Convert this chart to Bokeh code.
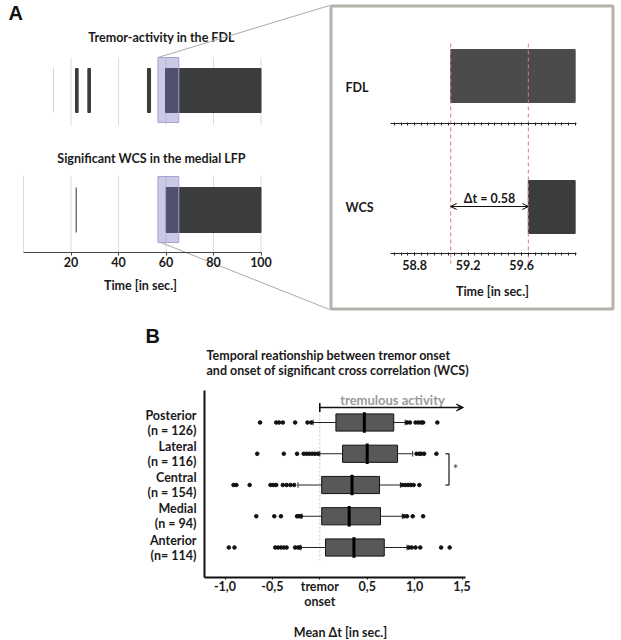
from bokeh.plotting import figure
from bokeh.layouts import column
from bokeh.models import (Range1d, FixedTicker, Arrow, VeeHead, TeeHead, OpenHead, LinearAxis)
from bokeh.core.properties import value
from bokeh.embed import file_html
from bokeh.resources import INLINE

FONT = "Lato"
DARK = "#3b3d3d"
BORDER = "#b3b3ab"
TXT = "#1a1a1a"
FS = "12.5px"

# ---------------- Panel A data (time in s) ----------------
fdl_burst_start = [21.9, 27.1, 52.2]
fdl_burst_end = [23.0, 28.2, 53.5]
fdl_faint_event = [12.6]
fdl_tremor_start = 59.8
wcs_burst = [22.2]
wcs_tremor_start = 60.1
recording_end = 100.0
onset_window = [56.6, 65.4]
time_ticks = [20, 40, 60, 80, 100]
grid_times = [0, 20, 40, 60, 80, 100]

zoom_fdl_onset = 59.07
zoom_delta_t = 0.58
zoom_ticks = [58.8, 59.2, 59.6]
zoom_end = 60.0

# ---------------- Panel B data ----------------
regions = ["Posterior", "Lateral", "Central", "Medial", "Anterior"]
n_labels = ["(n = 126)", "(n = 116)", "(n = 154)", "(n = 94)", "(n= 114)"]
q1 = [0.17, 0.24, 0.02, 0.02, 0.06]
median = [0.47, 0.50, 0.34, 0.31, 0.36]
q3 = [0.78, 0.82, 0.63, 0.64, 0.68]
whisk_lo = [-0.07, 0.00, -0.23, -0.19, -0.20]
whisk_hi = [0.90, 0.98, 0.85, 0.87, 0.92]
outliers = [
    [-0.63, -0.46, -0.43, -0.39, -0.26, -0.13, -0.09, 0.92, 0.95, 1.01, 1.04, 1.07, 1.09, 1.24],
    [-0.66, -0.38, -0.24, -0.17, -0.14, -0.11, -0.08, -0.05, -0.02, 1.02, 1.05, 1.07, 1.10, 1.23],
    [-0.91, -0.88, -0.74, -0.52, -0.49, -0.46, -0.39, -0.35, -0.31, -0.27, 0.87, 0.90, 0.93, 0.96, 0.99, 1.05],
    [-0.67, -0.48, -0.41, -0.24, -0.22, -0.20, 0.89, 0.92, 0.98, 1.09],
    [-0.96, -0.90, -0.47, -0.44, -0.41, -0.38, -0.35, -0.26, -0.23, -0.21, 0.94, 0.97, 1.01, 1.06, 1.28, 1.37],
]
x_ticks = [-1.0, -0.5, 0.0, 0.5, 1.0, 1.5]
x_tick_labels = ["-1,0", "-0,5", "tremor\nonset", "0,5", "1,0", "1,5"]


def style_axis_text(ax):
    ax.major_label_text_font = FONT
    ax.major_label_text_font_style = "bold"
    ax.major_label_text_font_size = FS
    ax.major_label_text_color = TXT


def txt(p, x, y, s, align="center", size=FS, font=FONT, color=TXT, style="bold", **kw):
    p.text(x=[x], y=[y], text=[s], text_align=align, text_baseline="middle",
           text_font=value(font), text_font_style=style, text_font_size=size,
           text_color=color, **kw)


# ======================= Panel A (canvas px 0..621 x 0..316) =======================
A_W, A_H = 621, 316
A_PX, A_T0PX = 2.375, 23.0                 # px per second, x of t = 0
Z_PX, Z_X0, Z_X0PX = 133.8, 58.62, 390.0   # zoom panel: px per second, time at x = 390


def tx(px):
    return (px - A_T0PX) / A_PX


def zx(px):
    return Z_X0 + (px - Z_X0PX) / Z_PX


pA = figure(width=A_W, height=A_H, x_range=Range1d(tx(0), tx(A_W)), y_range=Range1d(A_H, 0),
            x_axis_location=None, y_axis_location=None, title=None, min_border=0,
            output_backend="svg", toolbar_location=None)
pA.extra_x_ranges = {"zoom": Range1d(zx(0), zx(A_W))}
pA.grid.visible = False
pA.outline_line_color = None

# left overview strips
pA.segment(x0=grid_times[1:], y0=57, x1=grid_times[1:], y1=125, line_color="#dcdcdc", line_width=1)
pA.segment(x0=grid_times, y0=175, x1=grid_times, y1=252, line_color="#dcdcdc", line_width=1)
pA.segment(x0=fdl_faint_event, y0=68, x1=fdl_faint_event, y1=112, line_color="#cfcfcf", line_width=1)
pA.quad(left=fdl_burst_start, right=fdl_burst_end, top=68, bottom=112, color=DARK)
pA.quad(left=[fdl_tremor_start], right=[recording_end], top=68, bottom=112, color=DARK)
pA.segment(x0=wcs_burst, y0=187, x1=wcs_burst, y1=232, line_color="#555555", line_width=1.2)
pA.quad(left=[wcs_tremor_start], right=[recording_end], top=187, bottom=232, color=DARK)
pA.quad(left=[onset_window[0]] * 2, right=[onset_window[1]] * 2, top=[57, 176], bottom=[122, 242],
        fill_color="#7474c0", fill_alpha=0.38, line_color="#a4a4d4", line_width=1)

txt(pA, tx(161), 37, "Tremor-activity in the FDL")
txt(pA, tx(151), 158, "Significant WCS in the medial LFP")
txt(pA, tx(140), 285, "Time [in sec.]")
txt(pA, tx(8), 12, "A", align="left", size="20px", font="Liberation Sans", color="#111111")

ax = LinearAxis(fixed_location=252, bounds=(0, 100), ticker=FixedTicker(ticks=time_ticks))
ax.minor_tick_line_color = None
ax.major_tick_in = 0
ax.major_tick_out = 3
ax.axis_line_color = "#444444"
ax.major_tick_line_color = "#444444"
ax.major_label_standoff = 1
style_axis_text(ax)
pA.add_layout(ax, "below")

# zoom connector lines
pA.segment(x0=[onset_window[0], onset_window[0] + 1.2], y0=[57, 242], x1=[tx(329)] * 2, y1=[5, 309],
           line_color="#a9a9a9", line_width=1)

# zoom panel frame
pA.quad(left=[zx(330.5)], right=[zx(612.5)], top=[5.5], bottom=[308.5], fill_color=None,
        line_color=BORDER, line_width=3, x_range_name="zoom")

# zoom panel content
pA.quad(left=[zoom_fdl_onset], right=[zoom_end], top=49, bottom=102, color="#4b4b4b", x_range_name="zoom")
pA.quad(left=[zoom_fdl_onset + zoom_delta_t], right=[zoom_end], top=180, bottom=233, color=DARK,
        x_range_name="zoom")
onsets = [zoom_fdl_onset, zoom_fdl_onset + zoom_delta_t]
pA.segment(x0=onsets, y0=43, x1=onsets, y1=263, line_color="#e07a7a", line_dash="4 3", line_width=1,
           x_range_name="zoom")
pA.add_layout(Arrow(start=OpenHead(size=6, line_width=1), end=OpenHead(size=6, line_width=1),
                    x_start=onsets[0], y_start=206, x_end=onsets[1], y_end=206,
                    line_width=1, line_color="#111111", x_range_name="zoom"))
txt(pA, (onsets[0] + onsets[1]) / 2, 198, f"\u0394t = {zoom_delta_t}", x_range_name="zoom")
txt(pA, zx(345), 87, "FDL", align="left", x_range_name="zoom")
txt(pA, zx(345), 207, "WCS", align="left", x_range_name="zoom")
txt(pA, zx(492), 291, "Time [in sec.]", x_range_name="zoom")

minor = [round(58.65 + 0.05 * i, 2) for i in range(28)]
zbounds = (zx(390), zx(576))
for loc, majors in [(123, []), (253, zoom_ticks)]:
    za = LinearAxis(x_range_name="zoom", fixed_location=loc, bounds=zbounds,
                    ticker=FixedTicker(ticks=majors, minor_ticks=minor))
    za.axis_line_color = "#222222"
    za.major_tick_line_color = "#222222"
    za.minor_tick_line_color = "#222222"
    za.major_tick_in = 1
    za.major_tick_out = 2
    za.minor_tick_in = 1
    za.minor_tick_out = 2
    za.major_label_standoff = 4
    style_axis_text(za)
    pA.add_layout(za, "below")

# ======================= Panel B (canvas px 0..621, page y 316..640) =======================
B_W, B_H, B_TOP = 621, 324, 316
B_PX, B_X0PX = 94.8, 319.3      # px per second, x of 0 s
B_PY, B_ROW_PY = 31.25, 422.0   # px per row, page y of the top row (row 5)


def bx(px):
    return (px - B_X0PX) / B_PX


def by(py):
    return 5 - (py - B_ROW_PY) / B_PY


ypos = [5, 4, 3, 2, 1]
pB = figure(width=B_W, height=B_H, x_range=Range1d(bx(0), bx(B_W)),
            y_range=Range1d(by(B_TOP + B_H), by(B_TOP)),
            x_axis_location=None, y_axis_location=None, title=None, min_border=0,
            output_backend="svg", toolbar_location=None)
pB.grid.visible = False
pB.outline_line_color = None

pB.segment(x0=0, y0=by(560), x1=0, y1=by(407), line_color="#c8c8c8", line_dash="2 2", line_width=1)
pB.segment(x0=whisk_lo, y0=ypos, x1=q1, y1=ypos, line_color="#222222", line_width=1)
pB.segment(x0=q3, y0=ypos, x1=whisk_hi, y1=ypos, line_color="#222222", line_width=1)
pB.segment(x0=whisk_lo, y0=[y - 0.09 for y in ypos], x1=whisk_lo, y1=[y + 0.09 for y in ypos],
           line_color="#222222", line_width=1)
pB.segment(x0=whisk_hi, y0=[y - 0.09 for y in ypos], x1=whisk_hi, y1=[y + 0.09 for y in ypos],
           line_color="#222222", line_width=1)
pB.hbar(y=ypos, left=q1, right=q3, height=0.55, fill_color="#585858", line_color="#111111", line_width=1)
pB.segment(x0=median, y0=[y - 0.33 for y in ypos], x1=median, y1=[y + 0.33 for y in ypos],
           line_color="#000000", line_width=3)
ox, oy = [], []
for y, vals in zip(ypos, outliers):
    ox += vals
    oy += [y] * len(vals)
pB.scatter(x=ox, y=oy, size=3.6, color="#111111")

pB.add_layout(Arrow(start=TeeHead(size=9, line_width=1.5),
                    end=VeeHead(size=7, fill_color="#111111", line_color="#111111"),
                    x_start=0, y_start=by(407), x_end=bx(463), y_end=by(407),
                    line_width=1.5, line_color="#111111"))
txt(pB, bx(392), by(399), "tremulous activity", size="13px", color="#9a9a9a")
pB.multi_line(xs=[[bx(445), bx(448.5), bx(448.5), bx(445)]], ys=[[4.0, 4.0, 3.0, 3.0]],
              line_color="#444444", line_width=1.5)
txt(pB, bx(455), 3.5, "*", size="13px", color="#444444", style="normal")

txt(pB, bx(145), by(335), "B", align="left", size="20px", font="Liberation Sans", color="#111111")
txt(pB, bx(206), by(355), "Temporal reationship between tremor onset", align="left")
txt(pB, bx(206), by(370), "and onset of significant cross correlation (WCS)", align="left")
txt(pB, bx(340), by(632), "Mean \u0394t [in sec.]")

yb = LinearAxis(fixed_location=bx(204), bounds=(by(577), by(390)), ticker=FixedTicker(ticks=ypos))
yb.major_label_overrides = {y: f"{r}\n{n}" for y, r, n in zip(ypos, regions, n_labels)}
yb.axis_line_width = 2
yb.axis_line_color = "#111111"
yb.major_tick_line_color = None
yb.minor_tick_line_color = None
yb.major_label_standoff = 2
yb.major_label_text_line_height = 1.0
style_axis_text(yb)
pB.add_layout(yb, "left")

xB = LinearAxis(fixed_location=by(577), bounds=(bx(204), bx(465)), ticker=FixedTicker(ticks=x_ticks))
xB.major_label_overrides = {t: l for t, l in zip(x_ticks, x_tick_labels)}
xB.axis_line_width = 2
xB.axis_line_color = "#111111"
xB.major_tick_in = 0
xB.major_tick_out = 2
xB.major_tick_line_color = "#111111"
xB.minor_tick_line_color = None
xB.major_label_standoff = -1
xB.major_label_text_line_height = 1.0
style_axis_text(xB)
pB.add_layout(xB, "below")

layout = column(pA, pB)
open("out.html", "w").write(file_html(layout, INLINE))
